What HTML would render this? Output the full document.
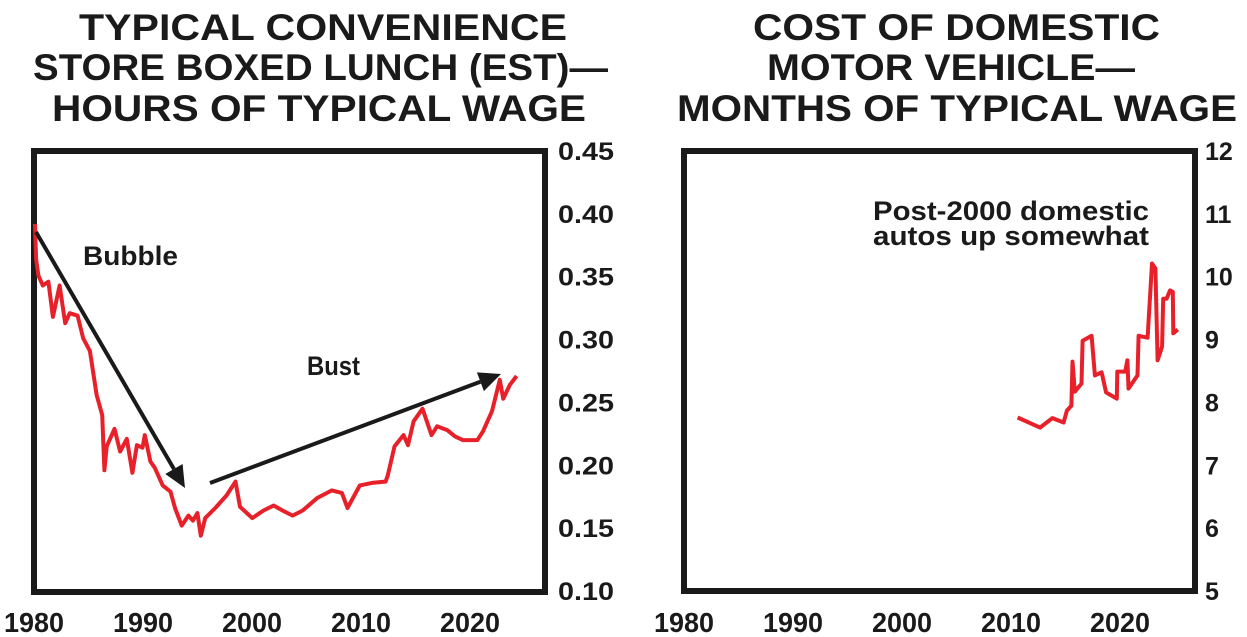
<!DOCTYPE html>
<html><head><meta charset="utf-8"><style>
body{margin:0;background:#fff}
svg{display:block}
text{font-family:"Liberation Sans",sans-serif;font-weight:bold;fill:#1a1a1a}
</style></head><body>
<svg id="c" width="1247" height="637" viewBox="0 0 1247 637">
<g>
<text x="79" y="40" font-size="37" textLength="488" lengthAdjust="spacingAndGlyphs">TYPICAL CONVENIENCE</text>
<text x="33" y="80" font-size="37" textLength="575" lengthAdjust="spacingAndGlyphs">STORE BOXED LUNCH (EST)—</text>
<text x="52" y="121" font-size="37" textLength="534" lengthAdjust="spacingAndGlyphs">HOURS OF TYPICAL WAGE</text>
</g>
<g>
<text x="753" y="40" font-size="37" textLength="407" lengthAdjust="spacingAndGlyphs">COST OF DOMESTIC</text>
<text x="767" y="80" font-size="37" textLength="368" lengthAdjust="spacingAndGlyphs">MOTOR VEHICLE—</text>
<text x="677" y="121" font-size="37" textLength="560" lengthAdjust="spacingAndGlyphs">MONTHS OF TYPICAL WAGE</text>
</g>
<rect x="34" y="151" width="511" height="441" fill="none" stroke="#1a1a1a" stroke-width="6"/>
<rect x="684" y="151" width="511" height="440" fill="none" stroke="#1a1a1a" stroke-width="6"/>
<g id="L"></g><g id="R"></g>
<text x="83" y="265" font-size="27" textLength="95" lengthAdjust="spacingAndGlyphs">Bubble</text>
<text x="307" y="375" font-size="27" textLength="53" lengthAdjust="spacingAndGlyphs">Bust</text>
<text x="873" y="220" font-size="27" textLength="276" lengthAdjust="spacingAndGlyphs">Post-2000 domestic</text>
<text x="873" y="245" font-size="27" textLength="276" lengthAdjust="spacingAndGlyphs">autos up somewhat</text>
</svg>
<script>
const xTicks=[1980,1990,2000,2010,2020];
const leftYTicks=["0.10","0.15","0.20","0.25","0.30","0.35","0.40","0.45"];
const rightYTicks=["5","6","7","8","9","10","11","12"];
const lunchYears=[1980.0,1980.1,1980.3,1980.7,1981.2,1981.6,1982.2,1982.7,1983.1,1983.8,1984.3,1984.9,1985.5,1986.0,1986.2,1986.4,1987.1,1987.6,1988.2,1988.7,1989.1,1989.6,1989.8,1990.3,1990.7,1991.4,1992.1,1992.5,1993.1,1993.7,1994.1,1994.5,1994.8,1995.2,1996.1,1996.7,1997.1,1997.9,1998.3,1999.4,2000.4,2001.3,2002.1,2003.0,2003.9,2005.2,2006.5,2007.4,2007.9,2009.0,2010.1,2011.3,2011.5,2012.1,2012.9,2013.3,2013.8,2014.6,2015.4,2015.9,2016.8,2017.5,2018.2,2019.5,2020.0,2020.8,2021.5,2021.8,2022.4,2023.0];
const lunchValues=[0.392,0.364,0.351,0.343,0.346,0.318,0.343,0.313,0.321,0.319,0.301,0.291,0.256,0.240,0.196,0.215,0.229,0.211,0.221,0.194,0.216,0.214,0.224,0.203,0.198,0.184,0.179,0.166,0.152,0.160,0.156,0.162,0.144,0.158,0.166,0.172,0.176,0.187,0.167,0.158,0.164,0.168,0.164,0.160,0.164,0.174,0.180,0.178,0.166,0.184,0.186,0.187,0.192,0.215,0.224,0.216,0.235,0.245,0.224,0.231,0.228,0.223,0.220,0.220,0.227,0.243,0.268,0.253,0.264,0.271];
const autoYears=[2009.7,2011.7,2012.8,2013.8,2014.1,2014.5,2014.6,2014.8,2015.4,2015.5,2016.3,2016.6,2017.2,2017.6,2018.55,2018.6,2019.3,2019.5,2019.6,2020.4,2020.5,2021.3,2021.7,2022.0,2022.2,2022.6,2022.7,2023.0,2023.3,2023.55,2023.6,2024.0];
const autoValues=[7.76,7.60,7.75,7.68,7.87,7.95,8.65,8.17,8.30,8.98,9.06,8.43,8.48,8.16,8.06,8.49,8.49,8.67,8.22,8.43,9.06,9.03,10.21,10.13,8.67,8.89,9.65,9.65,9.78,9.76,9.10,9.16];
const NS='http://www.w3.org/2000/svg';
function mk(t,a,p){const e=document.createElementNS(NS,t);for(const k in a)e.setAttribute(k,a[k]);p.appendChild(e);return e;}
function panel(g,x0,labelX0,yLabelX,yMin,yMax,labels,years,vals){
 const sx=y=>x0+(y-1980)*11.2;
 const tx=y=>labelX0+(y-1980)*10.9;
 const sy=v=>591-(v-yMin)/(yMax-yMin)*440;
 xTicks.forEach(t=>{const e=mk('text',{x:tx(t)-30,y:632,'font-size':28,textLength:60,lengthAdjust:'spacingAndGlyphs'},g);e.textContent=t;
 
 });
 labels.forEach((l,i)=>{const v=yMin+(yMax-yMin)*i/(labels.length-1);const a={x:yLabelX,y:sy(v)+9,'font-size':25};if(l.length>2){a.textLength=56;a.lengthAdjust='spacingAndGlyphs';}const e=mk('text',a,g);e.textContent=l;
 
 });
 const d=years.map((y,i)=>(i?'L':'M')+sx(y).toFixed(1)+','+sy(vals[i]).toFixed(1)).join('');
 const p=mk('path',{d:d,fill:'none',stroke:'#e8202a','stroke-width':4,'stroke-linejoin':'round'},g);
 
 
}
const L=document.getElementById('L'),R=document.getElementById('R');
panel(L,35,34,558,0.10,0.45,leftYTicks,lunchYears,lunchValues);
panel(R,685,684,1205,5,12,rightYTicks,autoYears,autoValues);
function arrow(g,x1,y1,x2,y2,name){
 const a=Math.atan2(y2-y1,x2-x1),h=22,w=10;
 const bx=x2-h*Math.cos(a),by=y2-h*Math.sin(a);
 const l=mk('line',{x1:x1,y1:y1,x2:bx,y2:by,stroke:'#1a1a1a','stroke-width':4},g);
 
 
 const pts=[[x2,y2],[bx+w*Math.sin(a),by-w*Math.cos(a)],[bx-w*Math.sin(a),by+w*Math.cos(a)]].map(p=>p.join(',')).join(' ');
 const t=mk('polygon',{points:pts,fill:'#1a1a1a'},g);
 
 
}
arrow(L,36,232,185,488,'bubble-arrow');
arrow(L,210,483,501,374,'bust-arrow');
</script>
</body></html>
